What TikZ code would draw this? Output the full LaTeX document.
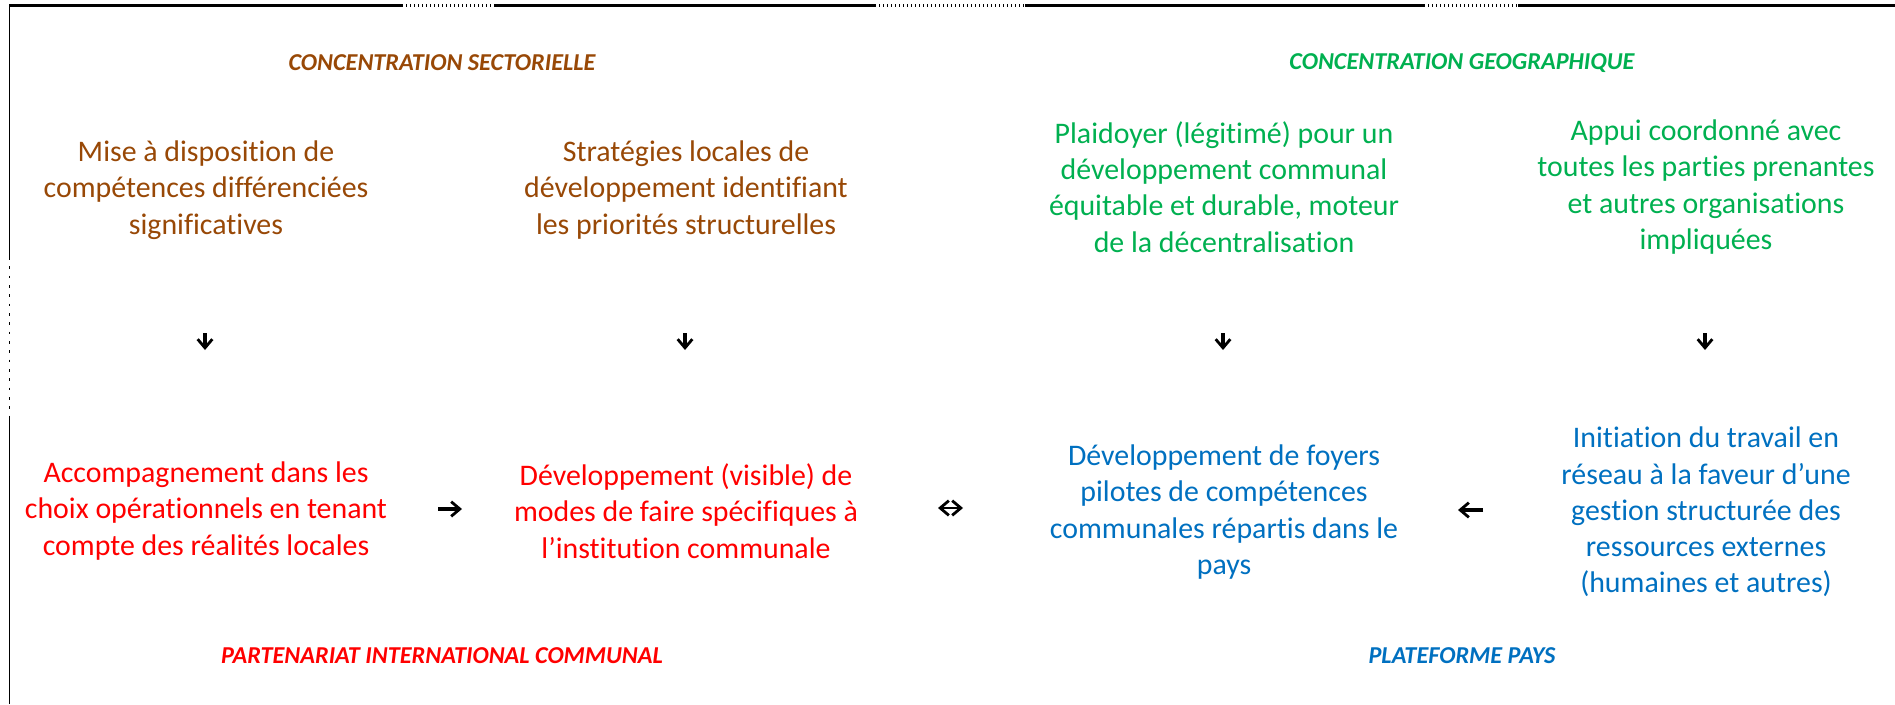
\documentclass[tikz,border=0pt]{standalone}
\usepackage{fontspec}
\setmainfont{Carlito}[RawFeature={-liga}]
\usetikzlibrary{arrows.meta}
\definecolor{secbrown}{HTML}{984806}
\definecolor{geogreen}{HTML}{00B050}
\definecolor{picred}{HTML}{FF0000}
\definecolor{paysblue}{HTML}{0070C0}
\tikzset{
  body/.style={align=center, inner sep=0pt, font=\fontsize{22.4}{27.2}\selectfont},
  head/.style={inner sep=0pt, font=\fontsize{18.2}{21}\selectfont\bfseries\itshape},
  glyphtip/.style={>={Straight Barb[line width=2.1pt,length=6.5pt,width=11pt]}},
  glyph/.style={glyphtip, line width=2.4pt, ->},
  glyphboth/.style={glyphtip, line width=1.1pt, <->},
  frameline/.style={line width=2.2pt},
  framedots/.style={line width=2.2pt, dash pattern=on 0.8pt off 2.2pt},
}
\begin{document}
\begin{tikzpicture}[x=0.75pt,y=-0.75pt]
\useasboundingbox (0,0) rectangle (1895,704);

% frame: top rule with dotted gaps, thin left rule
\draw[frameline] (9,5.5) -- (402,5.5);
\draw[framedots] (402,5.5) -- (495,5.5);
\draw[frameline] (495,5.5) -- (875,5.5);
\draw[framedots] (875,5.5) -- (1025,5.5);
\draw[frameline] (1025,5.5) -- (1424,5.5);
\draw[framedots] (1424,5.5) -- (1518,5.5);
\draw[frameline] (1518,5.5) -- (1895,5.5);
\draw[line width=0.75pt] (9,5) -- (9,257);
\draw[line width=0.75pt, dash pattern=on 2pt off 5pt] (9,257) -- (9,418);
\draw[line width=0.75pt] (9,418) -- (9,704);

% headings
\node[head, text=secbrown] (hsec) at (442,63) {CONCENTRATION SECTORIELLE};
\node[head, text=geogreen] (hgeo) at (1462,63) {CONCENTRATION GEOGRAPHIQUE};
\node[head, text=picred] (hpic) at (442,656) {PARTENARIAT INTERNATIONAL COMMUNAL};
\node[head, text=paysblue] (hpays) at (1462,656) {PLATEFORME PAYS};

% top row
\node[body, text=secbrown] (t1) at (206,190) {Mise à disposition de\\compétences différenciées\\significatives};
\node[body, text=secbrown] (t2) at (686,190) {Stratégies locales de\\développement identifiant\\les priorités structurelles};
\node[body, text=geogreen] (t3) at (1224,187) {Plaidoyer (légitimé) pour un\\développement communal\\équitable et durable, moteur\\de la décentralisation};
\node[body, text=geogreen] (t4) at (1706,187) {Appui coordonné avec\\toutes les parties prenantes\\et autres organisations\\impliquées};

% bottom row
\node[body, text=picred] (b1) at (206,511) {Accompagnement dans les\\choix opérationnels en tenant\\compte des réalités locales};
\node[body, text=picred] (b2) at (686,511) {Développement (visible) de\\modes de faire spécifiques à\\l’institution communale};
\node[body, text=paysblue] (b3) at (1224,512) {Développement de foyers\\pilotes de compétences\\communales répartis dans le\\pays};
\node[body, text=paysblue] (b4) at (1706,512) {Initiation du travail en\\réseau à la faveur d’une\\gestion structurée des\\ressources externes\\(humaines et autres)};

% small arrows between the rows
\foreach \n/\x in {1/205,2/685,3/1223,4/1705}{
  \coordinate (v\n a) at (\x,333);
  \coordinate (v\n b) at (\x,350);
  \draw[glyph] (v\n a) -- (v\n b);
}
\coordinate (h1a) at (438,509);
\coordinate (h1b) at (462,509);
\draw[glyph] (h1a) -- (h1b);
\coordinate (h2a) at (938,508);
\coordinate (h2b) at (963,508);
\draw[glyphboth] (h2a) -- (h2b);
\coordinate (h3a) at (1483,510);
\coordinate (h3b) at (1458,510);
\draw[glyph] (h3a) -- (h3b);
\end{tikzpicture}
\end{document}
